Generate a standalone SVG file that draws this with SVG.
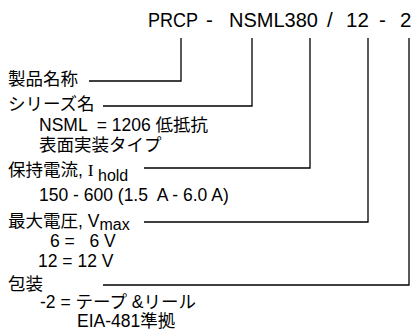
<svg xmlns="http://www.w3.org/2000/svg" width="420" height="335" viewBox="0 0 420 335">
<style>
text{font-family:"Liberation Sans","Noto Sans CJK JP",sans-serif;fill:#000;white-space:pre}
.t{font-size:20.5px}
.l{font-size:17.5px}
.s{font-size:16px}
.c{fill:none;stroke:#000;stroke-width:1.3}
.serif{font-family:"Liberation Serif","Noto Sans CJK JP",serif}
</style>
<rect width="420" height="335" fill="#fff"/>
<g id="title">
<text class="t" x="148" y="27" textLength="50" lengthAdjust="spacingAndGlyphs">PRCP</text>
<text class="t" x="206" y="27">-</text>
<text class="t" x="229" y="27" textLength="89" lengthAdjust="spacingAndGlyphs">NSML380</text>
<text class="t" x="327" y="27">/</text>
<text class="t" x="346" y="27">12</text>
<text class="t" x="379" y="27">-</text>
<text class="t" x="400" y="27">2</text>
</g>
<g id="connectors">
<polyline class="c" points="89,81 181,81 181,38"/>
<polyline class="c" points="103,106 252,106 252,38"/>
<polyline class="c" points="144,168 310,168 310,38"/>
<polyline class="c" points="144,222 368,222 368,38"/>
<polyline class="c" points="103,285 409,285 409,38"/>
</g>
<g id="product-name">
<text class="l" x="8" y="85">製品名称</text>
</g>
<g id="series-name">
<text class="l" x="8" y="110">シリーズ名</text>
<text class="l" x="39" y="131">NSML  = 1206 低抵抗</text>
<text class="l" x="39" y="151">表面実装タイプ</text>
</g>
<g id="hold-current">
<text class="l" x="8" y="176">保持電流, <tspan class="serif">I</tspan><tspan class="s" dy="5"> hold</tspan></text>
<text class="l" x="39" y="201">150 - 600 (1.5  A - 6.0 A)</text>
</g>
<g id="max-voltage">
<text class="l" x="8" y="227">最大電圧, V<tspan class="s" dy="3">max</tspan></text>
<text class="l" x="50" y="247">6 =   6 V</text>
<text class="l" x="38" y="267">12 = 12 V</text>
</g>
<g id="packaging">
<text class="l" x="8" y="290">包装</text>
<text class="l" x="40" y="308">-2 = テープ &amp;リール</text>
<text class="l" x="77" y="327">EIA-481準拠</text>
</g>
</svg>
